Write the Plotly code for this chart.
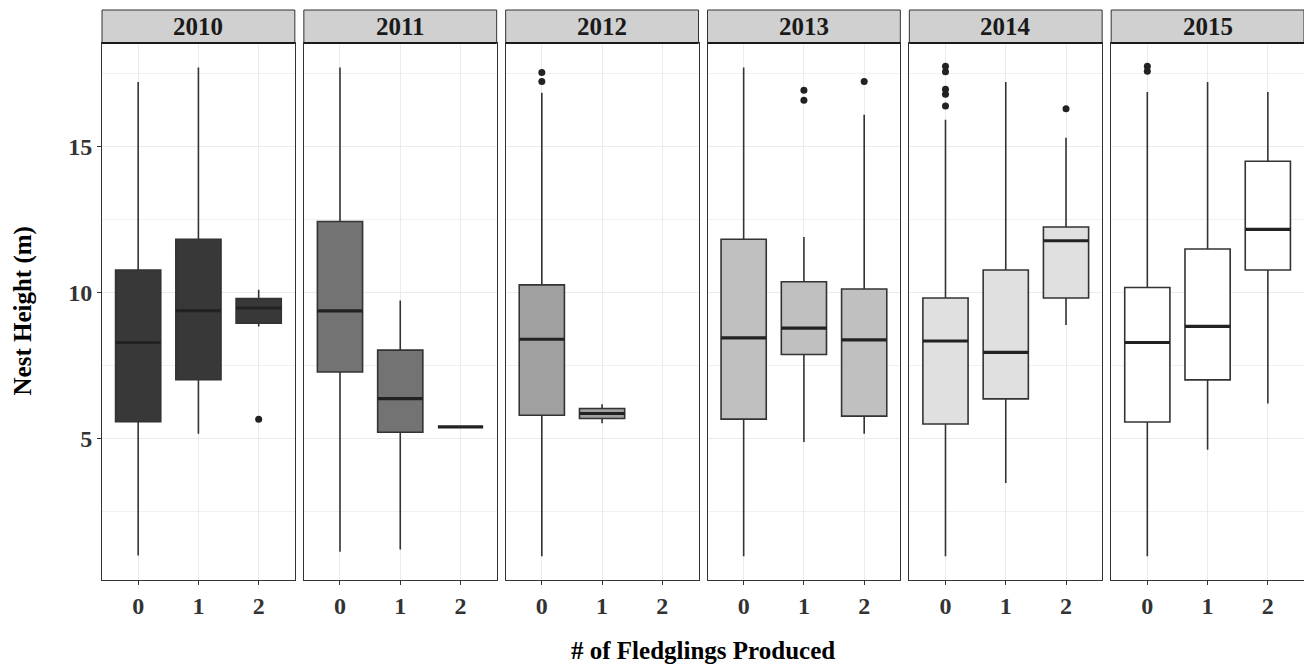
import plotly.graph_objects as go

years = ["2010", "2011", "2012", "2013", "2014", "2015"]
fills = ["#383838", "#737373", "#a0a0a0", "#c0c0c0", "#e0e0e0", "#ffffff"]

# per-year box statistics, category order 0,1,2
cats = {
    "2010": [0, 1, 2], "2011": [0, 1, 2], "2012": [0, 1],
    "2013": [0, 1, 2], "2014": [0, 1, 2], "2015": [0, 1, 2],
}
lower = {
    "2010": [1.0, 5.17, 8.84], "2011": [1.13, 1.21, 5.40], "2012": [0.98, 5.53],
    "2013": [0.98, 4.89, 5.17], "2014": [0.98, 3.48, 8.89], "2015": [0.98, 4.62, 6.20],
}
q1 = {
    "2010": [5.58, 7.02, 8.95], "2011": [7.28, 5.22, 5.40], "2012": [5.80, 5.69],
    "2013": [5.67, 7.88, 5.77], "2014": [5.50, 6.36, 9.81], "2015": [5.57, 7.01, 10.77],
}
median = {
    "2010": [8.29, 9.38, 9.47], "2011": [9.37, 6.37, 5.40], "2012": [8.40, 5.86],
    "2013": [8.45, 8.78, 8.38], "2014": [8.34, 7.95, 11.77], "2015": [8.29, 8.84, 12.16],
}
q3 = {
    "2010": [10.77, 11.82, 9.79], "2011": [12.43, 8.03, 5.40], "2012": [10.26, 6.03],
    "2013": [11.82, 10.37, 10.12], "2014": [9.81, 10.77, 12.24], "2015": [10.17, 11.49, 14.49],
}
upper = {
    "2010": [17.2, 17.7, 10.09], "2011": [17.7, 9.73, 5.40], "2012": [16.83, 6.18],
    "2013": [17.70, 11.90, 16.08], "2014": [15.91, 17.2, 15.29], "2015": [16.86, 17.2, 16.86],
}
outlier_x = {
    "2010": [2], "2011": [], "2012": [0, 0],
    "2013": [1, 1, 2], "2014": [0, 0, 0, 0, 0, 2], "2015": [0, 0],
}
outlier_y = {
    "2010": [5.66], "2011": [], "2012": [17.53, 17.22],
    "2013": [16.92, 16.58, 17.22], "2014": [17.74, 17.55, 16.95, 16.78, 16.38, 16.29],
    "2015": [17.74, 17.57],
}
x_ticks = [0, 1, 2]
x_labels = ["0", "1", "2"]
y_ticks = [5, 10, 15]
y_labels = ["5", "10", "15"]

FONT = "Liberation Serif"
LINE = "#333333"
BOX_W = 0.75
FS = 25

W, H = 1304, 664
ML, MR, MT, MB = 102, 0, 43, 84
plot_w = W - ML - MR
plot_h = H - MT - MB
gap = 9
pw = (plot_w - 5 * gap) / 6
strip_h = 33

fig = go.Figure()
layout = dict(
    width=W, height=H, margin=dict(l=ML, r=MR, t=MT, b=MB),
    plot_bgcolor="white", paper_bgcolor="white", showlegend=False,
    font=dict(family=FONT, color="#333333"),
)
shapes = []
annotations = []

for i, yr in enumerate(years):
    sfx = "" if i == 0 else str(i + 1)
    xa, ya = "x" + sfx, "y" + sfx
    d0 = i * (pw + gap) / plot_w
    d1 = min(1.0, (i * (pw + gap) + pw) / plot_w)
    layout["xaxis" + sfx] = dict(
        domain=[d0, d1], anchor=ya, range=[-0.6, 2.6],
        tickvals=x_ticks, ticktext=["<b>%s</b>" % t for t in x_labels],
        ticks="outside", ticklen=4,
        tickcolor=LINE, tickwidth=1,
        showgrid=True, gridcolor="#ebebeb", gridwidth=1,
        showline=True, linecolor=LINE, linewidth=1, mirror=True,
        zeroline=False,
        tickfont=dict(family=FONT, size=FS - 1, color="#333333"),
    )
    ya_d = dict(
        domain=[0, 1], anchor=xa, range=[0.165, 18.535],
        tickvals=y_ticks, ticktext=["<b>%s</b>" % t for t in y_labels],
        ticks="outside" if i == 0 else "", ticklen=4,
        tickcolor=LINE, showticklabels=(i == 0),
        showgrid=True, gridcolor="#ebebeb", gridwidth=1,
        minor=dict(dtick=5, tick0=2.5, showgrid=True, gridcolor="#f0f0f0", gridwidth=1),
        showline=True, linecolor=LINE, linewidth=1, mirror=True,
        zeroline=False,
        tickfont=dict(family=FONT, size=FS - 1, color="#333333"),
    )
    if i > 0:
        ya_d["matches"] = "y"
    layout["yaxis" + sfx] = ya_d

    fig.add_trace(go.Box(
        x=cats[yr], q1=q1[yr], median=median[yr], q3=q3[yr],
        lowerfence=lower[yr], upperfence=upper[yr],
        width=BOX_W, whiskerwidth=0, boxpoints=False,
        fillcolor=fills[i], line=dict(color=LINE, width=1.6),
        xaxis=xa, yaxis=ya, hoverinfo="skip",
    ))
    # thick median bars
    mx, my = [], []
    for c, m in zip(cats[yr], median[yr]):
        mx += [c - BOX_W / 2, c + BOX_W / 2, None]
        my += [m, m, None]
    fig.add_trace(go.Scatter(
        x=mx, y=my, mode="lines", line=dict(color="#222222", width=3.2),
        xaxis=xa, yaxis=ya, hoverinfo="skip",
    ))
    if outlier_x[yr]:
        fig.add_trace(go.Scatter(
            x=outlier_x[yr], y=outlier_y[yr], mode="markers",
            marker=dict(color="#222222", size=7),
            xaxis=xa, yaxis=ya, hoverinfo="skip",
        ))
    # facet strip
    shapes.append(dict(
        type="rect", xref="paper", yref="paper",
        x0=d0, x1=d1, y0=1.0, y1=1.0 + strip_h / plot_h,
        fillcolor="#d0d0d0", line=dict(color=LINE, width=1), layer="above",
    ))
    shapes.append(dict(
        type="line", xref="paper", yref="paper",
        x0=d0, x1=d1, y0=1.0, y1=1.0,
        line=dict(color="#1a1a1a", width=2), layer="above",
    ))
    annotations.append(dict(
        text="<b>%s</b>" % yr, xref="paper", yref="paper",
        x=(d0 + d1) / 2, y=1.0 + strip_h / 2 / plot_h,
        showarrow=False, xanchor="center", yanchor="middle",
        font=dict(family=FONT, size=FS, color="#1a1a1a"),
    ))

annotations.append(dict(
    text="<b># of Fledglings Produced</b>", xref="paper", yref="paper",
    x=0.5, y=-(650 - MT - plot_h) / plot_h, showarrow=False,
    xanchor="center", yanchor="middle",
    font=dict(family=FONT, size=FS, color="black"),
))
annotations.append(dict(
    text="<b>Nest Height (m)</b>", xref="paper", yref="paper",
    x=-(ML - 22) / plot_w, y=0.5, showarrow=False, textangle=-90,
    xanchor="center", yanchor="middle",
    font=dict(family=FONT, size=FS, color="black"),
))

layout["shapes"] = shapes
layout["annotations"] = annotations
fig.update_layout(**layout)
fig.write_html("out.html")
